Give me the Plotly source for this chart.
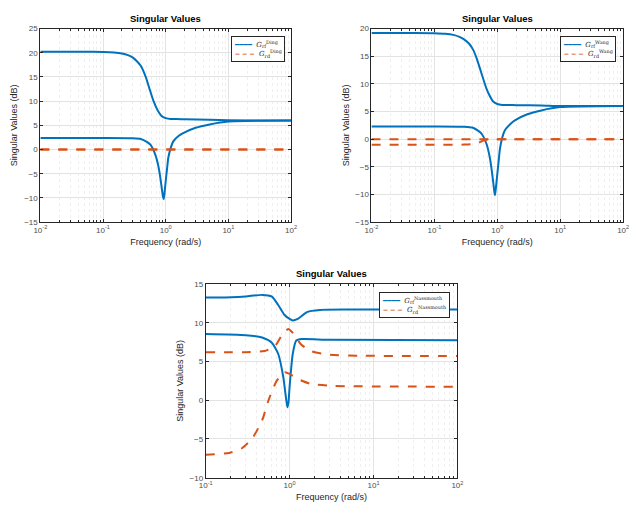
import plotly.graph_objects as go

BLUE = "#0072BD"
ORANGE = "#D95319"

# ---------------- Panel 1 (Ding) ----------------
p1_f_hi = [0.01, 0.05, 0.1, 0.15, 0.2, 0.25, 0.3, 0.35, 0.4, 0.48, 0.55, 0.64, 0.75, 0.85, 1.0, 1.2, 1.5, 2, 5, 10, 100]
p1_hi = [20.2, 20.2, 20.15, 20.05, 19.85, 19.5, 19.0, 18.2, 17.3, 15.0, 12.6, 10.0, 8.0, 7.0, 6.5, 6.3, 6.3, 6.25, 6.15, 6.05, 6.0]
p1_f_lo = [0.01, 0.1, 0.3, 0.4, 0.5, 0.57, 0.68, 0.76, 0.82, 0.87, 0.9, 0.93, 0.96, 1.0, 1.05, 1.1, 1.2, 1.32, 1.6, 1.9, 3.0, 5, 10, 100]
p1_lo = [2.4, 2.4, 2.35, 2.2, 1.6, 1.0, -1.0, -3.3, -5.8, -8.2, -9.6, -10.2, -8.8, -6.5, -4.0, -1.7, 0.3, 1.7, 2.8, 3.4, 4.5, 5.2, 5.8, 6.0]
p1_f_d = [0.01, 100]
p1_d1 = [0.0, 0.0]
p1_d2 = [0.02, 0.02]

# ---------------- Panel 2 (Wang) ----------------
p2_f_hi = [0.01, 0.05, 0.1, 0.15, 0.2, 0.25, 0.3, 0.36, 0.42, 0.47, 0.55, 0.67, 0.76, 0.86, 1.0, 1.2, 1.5, 2, 5, 10, 100]
p2_hi = [19.2, 19.2, 19.15, 19.05, 18.85, 18.5, 18.0, 17.2, 16.0, 14.6, 12.2, 9.2, 7.8, 6.8, 6.35, 6.2, 6.2, 6.15, 6.1, 6.0, 6.0]
p2_f_lo = [0.01, 0.1, 0.3, 0.4, 0.5, 0.57, 0.68, 0.76, 0.82, 0.87, 0.9, 0.92, 0.95, 1.0, 1.05, 1.1, 1.2, 1.32, 1.6, 1.9, 3.0, 5, 10, 100]
p2_lo = [2.3, 2.3, 2.25, 2.1, 1.5, 0.9, -1.0, -3.3, -5.8, -8.2, -9.6, -10.1, -8.8, -6.3, -4.0, -1.8, 0.3, 1.6, 2.7, 3.4, 4.5, 5.2, 5.8, 6.0]
p2_f_d1 = [0.01, 100]
p2_d1 = [0.0, 0.0]
p2_f_d2 = [0.01, 0.1, 0.3, 0.4, 0.5, 0.6, 0.7, 0.85, 1.0, 100]
p2_d2 = [-1.0, -1.0, -0.98, -0.9, -0.65, -0.25, -0.05, 0.0, 0.0, 0.0]

# ---------------- Panel 3 (Nassmouth) ----------------
p3_f_hi = [0.1, 0.2, 0.3, 0.47, 0.61, 0.73, 0.87, 1.0, 1.09, 1.25, 1.63, 2.3, 5, 100]
p3_hi = [13.25, 13.3, 13.4, 13.6, 13.4, 12.3, 11.0, 10.5, 10.3, 10.5, 11.4, 11.65, 11.7, 11.7]
p3_f_lo = [0.1, 0.3, 0.47, 0.61, 0.73, 0.84, 0.9, 0.94, 0.97, 1.0, 1.09, 1.2, 1.4, 3, 100]
p3_lo = [8.55, 8.4, 8.1, 7.45, 6.0, 3.0, 0.5, -0.9, -0.2, 1.8, 6.0, 7.7, 7.9, 7.8, 7.75]
p3_f_d1 = [0.1, 0.3, 0.5, 0.67, 0.8, 0.96, 1.09, 1.37, 1.8, 2.8, 6.8, 100]
p3_d1 = [6.2, 6.2, 6.35, 7.0, 8.3, 9.2, 8.7, 7.2, 6.35, 5.9, 5.75, 5.7]
p3_f_d2 = [0.1, 0.19, 0.27, 0.36, 0.47, 0.56, 0.7, 0.87, 1.0, 1.25, 1.8, 3.3, 100]
p3_d2 = [-7.05, -6.8, -6.2, -4.9, -2.6, 0.0, 2.5, 3.6, 3.4, 2.75, 2.1, 1.85, 1.75]

x_ticks_a = [0.01, 0.1, 1, 10, 100]
x_text_a = ["10<sup>-2</sup>", "10<sup>-1</sup>", "10<sup>0</sup>", "10<sup>1</sup>", "10<sup>2</sup>"]
x_ticks_b = [0.1, 1, 10, 100]
x_text_b = ["10<sup>-1</sup>", "10<sup>0</sup>", "10<sup>1</sup>", "10<sup>2</sup>"]
y_ticks_1 = [-15, -10, -5, 0, 5, 10, 15, 20, 25]
y_ticks_2 = [-15, -10, -5, 0, 5, 10, 15, 20]
y_ticks_3 = [-10, -5, 0, 5, 10, 15]

lbl = {
    1: ("<i>G</i><sub>rf</sub><sup>Ding</sup>", "<i>G</i><sub>rd</sub><sup>Ding</sup>"),
    2: ("<i>G</i><sub>rf</sub><sup>Wang</sup>", "<i>G</i><sub>rd</sub><sup>Wang</sup>"),
    3: ("<i>G</i><sub>rf</sub><sup>Nassmouth</sup>", "<i>G</i><sub>rd</sub><sup>Nassmouth</sup>"),
}

fig = go.Figure()

def add(x, y, color, dash, xa, ya, name):
    fig.add_trace(go.Scatter(
        x=x, y=y, mode="lines", name=name, showlegend=False,
        line=dict(color=color, width=2, dash=dash, shape="spline", smoothing=0.6),
        xaxis=xa, yaxis=ya))

add(p1_f_hi, p1_hi, BLUE, "solid", "x", "y", lbl[1][0])
add(p1_f_lo, p1_lo, BLUE, "solid", "x", "y", lbl[1][0])
add(p1_f_d, p1_d1, ORANGE, "dash", "x", "y", lbl[1][1])
add(p1_f_d, p1_d2, ORANGE, "dash", "x", "y", lbl[1][1])

add(p2_f_hi, p2_hi, BLUE, "solid", "x2", "y2", lbl[2][0])
add(p2_f_lo, p2_lo, BLUE, "solid", "x2", "y2", lbl[2][0])
add(p2_f_d1, p2_d1, ORANGE, "dash", "x2", "y2", lbl[2][1])
add(p2_f_d2, p2_d2, ORANGE, "dash", "x2", "y2", lbl[2][1])

add(p3_f_hi, p3_hi, BLUE, "solid", "x3", "y3", lbl[3][0])
add(p3_f_lo, p3_lo, BLUE, "solid", "x3", "y3", lbl[3][0])
add(p3_f_d1, p3_d1, ORANGE, "dash", "x3", "y3", lbl[3][1])
add(p3_f_d2, p3_d2, ORANGE, "dash", "x3", "y3", lbl[3][1])

FONT = "Liberation Sans, Arial, sans-serif"
GRID = "#e3e3e3"
AXC = "#262626"

def xax(domain, anchor, rng, tv, tt):
    return dict(type="log", domain=domain, anchor=anchor, range=rng, tickvals=tv, ticktext=tt,
                showgrid=True, gridcolor=GRID, gridwidth=1,
                minor=dict(showgrid=True, gridcolor="#efefef", griddash="dot", ticks="inside",
                           ticklen=2, tickcolor=AXC, dtick="D1"),
                showline=True, linecolor=AXC, linewidth=1, mirror="ticks", ticks="inside",
                ticklen=3, tickcolor=AXC, zeroline=False,
                tickfont=dict(size=8, color="#4d4d4d", family=FONT),
                title=dict(text="Frequency (rad/s)", font=dict(size=9, color="#262626", family=FONT), standoff=4))

def yax(domain, anchor, rng, tv):
    return dict(domain=domain, anchor=anchor, range=rng, tickvals=tv, showgrid=True,
                gridcolor=GRID, gridwidth=1, showline=True, linecolor=AXC, linewidth=1,
                mirror="ticks", ticks="inside", ticklen=3, tickcolor=AXC, zeroline=False,
                tickfont=dict(size=8, color="#4d4d4d", family=FONT),
                title=dict(text="Singular Values (dB)", font=dict(size=9, color="#262626", family=FONT), standoff=4))


def legend_ann(k, x, y):
    solid = "<span style='color:%s'>━━━━</span>" % BLUE
    dashed = "<span style='color:%s'><b>‒ ‒ ‒</b></span>" % ORANGE
    txt = "%s  %s<br>%s  %s" % (solid, lbl[k][0], dashed, lbl[k][1])
    return dict(text=txt, x=x, y=y, xref="paper", yref="paper", xanchor="right", yanchor="top",
                showarrow=False, align="left", bgcolor="white", bordercolor="#262626", borderwidth=1,
                borderpad=2, font=dict(size=7, family="DejaVu Serif, serif", color="#262626"))


def title_ann(xc, y):
    return dict(text="<b>Singular Values</b>", x=xc, y=y, xref="paper", yref="paper",
                xanchor="center", yanchor="bottom", showarrow=False,
                font=dict(size=9.5, family=FONT, color="#000"))


fig.update_layout(
    width=636, height=520, margin=dict(l=0, r=0, t=0, b=0),
    paper_bgcolor="white", plot_bgcolor="white",
    font=dict(family=FONT, size=8),
    xaxis=xax([0.0535, 0.456], "y", [-2, 2], x_ticks_a, x_text_a),
    yaxis=yax([0.573, 0.952], "x", [-15, 25], y_ticks_1),
    xaxis2=xax([0.585, 0.989], "y2", [-2, 2], x_ticks_a, x_text_a),
    yaxis2=yax([0.573, 0.952], "x2", [-15, 20], y_ticks_2),
    xaxis3=xax([0.319, 0.723], "y3", [-1, 2], x_ticks_b, x_text_b),
    yaxis3=yax([0.073, 0.452], "x3", [-10, 15], y_ticks_3),
    annotations=[
        title_ann((0.0535 + 0.456) / 2, 0.957),
        title_ann((0.585 + 0.989) / 2, 0.957),
        title_ann((0.319 + 0.723) / 2, 0.457),
        legend_ann(1, 0.4465, 0.9365),
        legend_ann(2, 0.978, 0.9365),
        legend_ann(3, 0.711, 0.4365),
    ],
)

fig.write_html("out.html")
